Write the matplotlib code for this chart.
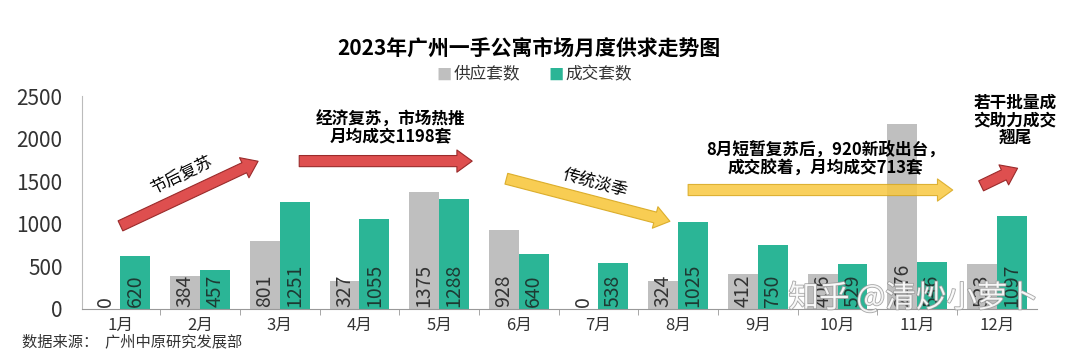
import numpy as np
import matplotlib
matplotlib.use("Agg")
import matplotlib.pyplot as plt
from matplotlib.patches import FancyArrowPatch
import matplotlib.patheffects as pe

plt.rcParams['font.family'] = ['Noto Sans CJK SC', 'DejaVu Sans']

# data
months = ['1月', '2月', '3月', '4月', '5月', '6月', '7月', '8月', '9月', '10月', '11月', '12月']
supply = [0, 384, 801, 327, 1375, 928, 0, 324, 412, 406, 2176, 523]
sales = [620, 457, 1251, 1055, 1288, 640, 538, 1025, 750, 529, 546, 1097]
yticks = [0, 500, 1000, 1500, 2000, 2500]

gray = '#BFBFBF'
teal = '#2BB596'
red = '#DE4F4F'
yellow = '#F8C840'

fig = plt.figure(figsize=(10.8, 3.51), dpi=100)
ax = fig.add_axes([0.076, 0.12, 0.884, 0.606])

x = np.arange(len(months))
w = 0.375
ax.bar(x - w / 2, supply, w, color=gray, zorder=2)
ax.bar(x + w / 2, sales, w, color=teal, zorder=2)

for i in range(len(months)):
    ax.text(x[i] - w / 2, 25, str(supply[i]), rotation=90, ha='center', va='bottom',
            fontsize=14, color='#333333', zorder=3)
    ax.text(x[i] + w / 2, 25, str(sales[i]), rotation=90, ha='center', va='bottom',
            fontsize=14, color='#1e3a33', zorder=3)

ax.set_xlim(-0.48, 11.5)
ax.set_ylim(0, 2500)
ax.set_yticks(yticks)
ax.set_xticks(x)
ax.set_xticklabels(months, fontsize=12, color='#333333')
ax.set_xticks(x[:-1] + 0.5, minor=True)
ax.tick_params(axis='x', which='major', length=0, pad=6)
ax.tick_params(axis='x', which='minor', length=4, color='#999999')
ax.tick_params(axis='y', length=0, labelsize=15, labelcolor='#333333', pad=14)
for s in ['top', 'right']:
    ax.spines[s].set_visible(False)
ax.spines['left'].set_color('#BBBBBB')
ax.spines['bottom'].set_color('#999999')


def arrow(p0, p1, fc, ec, alpha=1.0):
    a = FancyArrowPatch(p0, p1, arrowstyle='simple,tail_width=0.8,head_width=1.6,head_length=1.1',
                        mutation_scale=10, fc=fc, ec=ec, lw=0.8, alpha=alpha, zorder=4,
                        clip_on=False)
    ax.add_patch(a)


arrow((-0.03, 962), (1.76, 1749), red, '#9a2b2b')
arrow((2.21, 1737), (4.45, 1737), red, '#9a2b2b')
arrow((4.81, 1538), (6.93, 1021), yellow, '#d8a820', 0.9)
arrow((7.09, 1397), (10.48, 1397), yellow, '#d8a820', 0.85)
arrow((10.77, 1432), (11.29, 1667), red, '#9a2b2b')

ax.text(0.77, 1573, '节后复苏', rotation=26, ha='center', va='center', fontsize=12, zorder=5)
ax.text(3.39, 2120, '经济复苏，市场热推\n月均成交1198套', ha='center', va='center',
        fontsize=12, fontweight='bold', linespacing=1.0, zorder=5)
ax.text(5.96, 1479, '传统淡季', rotation=-15, ha='center', va='center', fontsize=12, zorder=5)
ax.text(8.85, 1749, '8月短暂复苏后，920新政出台，\n成交胶着，月均成交713套', ha='center', va='center',
        fontsize=12, fontweight='bold', linespacing=1.0, zorder=5)
ax.text(11.23, 2218, '若干批量成\n交助力成交\n翘尾', ha='center', va='center',
        fontsize=12, fontweight='bold', linespacing=1.0, zorder=5, clip_on=False)

fig.text(0.49, 1 - 48 / 351, '2023年广州一手公寓市场月度供求走势图', ha='center', va='center',
         fontsize=15, fontweight='bold')
fig.text(0.404, 1 - 75 / 351, '■', color=gray, ha='left', va='center', fontsize=11)
fig.text(0.420, 1 - 75 / 351, '供应套数', ha='left', va='center', fontsize=12, color='#333333')
fig.text(0.508, 1 - 75 / 351, '■', color=teal, ha='left', va='center', fontsize=11)
fig.text(0.524, 1 - 75 / 351, '成交套数', ha='left', va='center', fontsize=12, color='#333333')

fig.text(0.02, 0.003, '数据来源：  广州中原研究发展部', ha='left', va='bottom', fontsize=11,
         color='#333333')

fig.text(0.73, 1 - 298 / 351, '知乎 @清炒小萝卜', ha='left', va='center', fontsize=22,
         color='white', alpha=0.85, zorder=10,
         path_effects=[pe.withStroke(linewidth=1.2, foreground='#999999')])

fig.savefig('out.png', dpi=100)
